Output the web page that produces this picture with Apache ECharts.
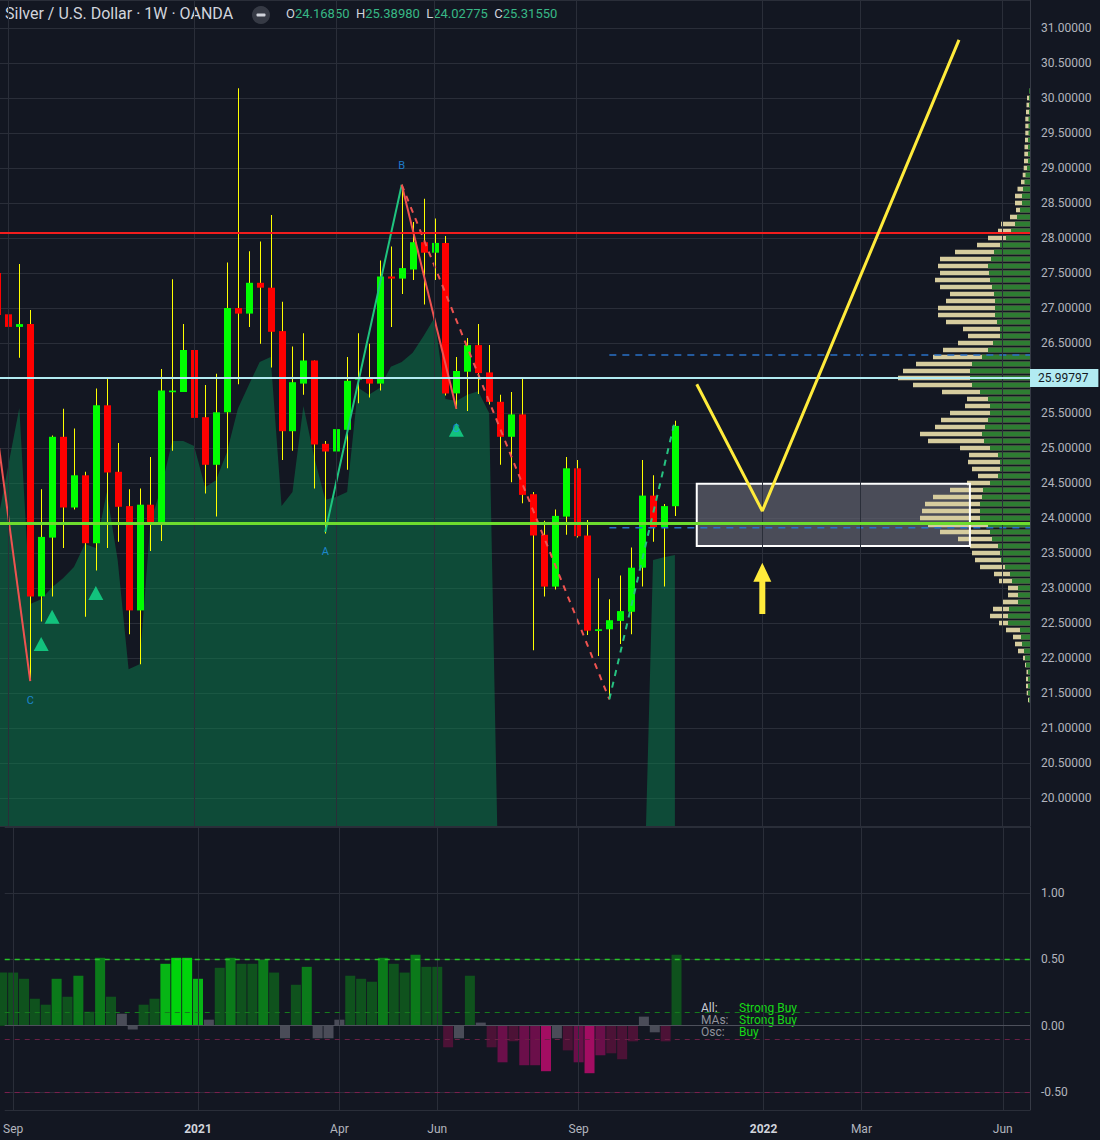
<!DOCTYPE html>
<html><head><meta charset="utf-8">
<script src="https://cdn.jsdelivr.net/npm/echarts@6/dist/echarts.min.js"></script>
<style>html,body{margin:0;padding:0;background:#131722;}#c{width:1100px;height:1140px;}</style>
</head><body><div id="c"></div>
<script>
// ---------- categories / ticks ----------
const startWeek = '2020-08-31';
const weekCount = 95;
const tickLabels = [['2020-09-07','Sep'],['2021-01-04','2021'],['2021-04-05','Apr'],['2021-06-07','Jun'],['2021-09-06','Sep'],['2022-01-03','2022'],['2022-03-07','Mar'],['2022-06-06','Jun']];
const yearLabels = ['2021','2022'];

// ---------- weekly candles (from 2020-08-31) ----------
const priceOpen = [27.50,26.91,26.73,26.77,22.88,23.72,25.16,24.15,24.61,23.64,
 25.61,24.66,24.17,22.68,24.19,23.92,25.80,25.80,26.40,25.44,
 24.76,25.51,27.00,26.92,27.36,27.29,26.67,25.24,25.92,26.25,
 25.06,24.95,25.26,25.98,26.00,25.92,27.45,27.42,27.55,27.94,
 27.79,27.93,25.78,26.09,26.47,26.08,25.66,25.16,25.48,24.34,
 23.76,23.02,24.02,24.71,23.75,22.40,22.41,22.53,22.66,23.29,
 24.32,23.87,24.16850];
const priceHigh = [27.90,27.50,27.63,26.97,24.41,25.18,25.56,25.28,24.66,25.85,
 26.00,25.07,24.41,24.42,24.87,26.13,27.41,26.77,27.93,25.90,
 26.06,27.65,30.14,27.81,27.95,28.33,27.09,26.45,26.64,26.25,
 25.10,25.61,26.30,26.64,26.49,27.68,27.88,28.76,28.23,28.56,
 28.28,28.03,26.30,26.57,26.77,26.47,25.76,25.80,26.00,24.37,
 23.96,24.12,24.87,24.83,23.97,23.14,22.84,23.18,23.58,24.83,
 24.61,24.20,25.38980];
const priceLow = [26.80,25.84,26.29,21.67,22.52,22.88,23.57,24.12,22.59,23.25,
 23.57,23.66,22.34,21.91,23.53,23.67,24.96,25.80,24.47,24.35,
 24.02,24.71,25.91,26.73,26.49,26.15,24.83,24.96,25.76,24.42,
 23.78,24.61,24.69,25.64,25.72,25.82,26.73,27.20,27.40,27.05,
 27.40,25.75,25.56,25.53,25.77,25.62,24.76,24.51,24.21,22.11,
 22.88,22.98,23.76,23.72,22.33,22.03,21.41,22.20,22.34,23.02,
 23.66,23.02,24.02775];
const priceClose = [26.90,26.73,26.77,22.88,23.73,25.16,24.15,24.61,23.64,25.61,
 24.65,24.16,22.68,24.19,23.92,25.82,25.82,26.40,25.43,24.76,
 25.51,27.00,26.92,27.36,27.29,26.66,25.24,25.94,26.25,25.05,
 24.95,25.27,25.96,26.00,25.92,27.45,27.42,27.57,27.94,27.79,
 27.93,25.78,26.10,26.47,26.07,25.66,25.16,25.48,24.33,23.75,
 23.02,24.03,24.71,23.74,22.39,22.41,22.54,22.67,23.29,24.32,
 23.87,24.17,25.31550];

// ---------- cloud indicator (upper edge) ----------
const cloudTop = [23.94,24.76,25.57,22.77,22.84,23.01,23.14,23.30,23.63,23.57,
 24.37,23.40,21.84,21.91,23.94,24.44,25.10,25.10,25.03,24.44,
 24.54,24.94,25.56,25.90,26.23,26.30,24.17,24.37,25.60,24.86,
 24.26,24.30,24.37,25.86,25.76,25.86,26.16,26.23,26.36,26.60,
 26.86,25.70,25.67,25.76,25.81,25.50,17.5,17.5,17.5,17.5,
 17.5,17.5,17.5,17.5,17.5,17.5,17.5,17.5,17.5,17.5,
 23.40,23.44,23.47];

// ---------- technical rating histogram ----------
const ratingValue = [0.40,0.40,0.353,0.203,0.158,0.353,0.218,0.376,0.105,0.511,
 0.218,0.09,-0.028,0.158,0.203,0.466,0.511,0.511,0.353,0.045,
 0.436,0.511,0.466,0.466,0.496,0.40,-0.095,0.308,0.443,-0.095,
 -0.095,0.045,0.376,0.353,0.331,0.511,0.466,0.40,0.534,0.443,
 0.443,-0.163,-0.095,0.376,0.023,-0.163,-0.276,-0.118,-0.298,-0.298,
 -0.343,-0.095,-0.186,-0.276,-0.358,-0.223,-0.208,-0.253,-0.118,0.068,
 -0.05,-0.118,0.534];
const ratingTier = [1,1,1,1,1,2,1,2,1,2,
 1,0,0,1,1,3,4,4,3,0,
 1,2,1,1,2,1,0,1,2,0,
 0,0,1,1,1,2,1,1,2,1,
 1,-1,0,1,0,-1,-2,-1,-2,-2,
 -3,0,-1,-2,-3,-2,-1,-1,-1,0,
 0,-1,1];
const ratingLevels = {upper:0.5, buy:0.1, zero:0, sell:-0.1, lower:-0.5};

// ---------- volume profile (rows of 0.1 from 30.1 down) ----------
const profileTopPrice = 30.1, profileStep = 0.1;
const profileTotal = [1,3,3.5,4,4.7,4.7,4.7,5,5.5,5.7,6,6.3,
 7.3,9,12.5,15,15,14,20,29,32,42,
 53,75,90,92,90,95,90,80,84,92,
 92,84,67,62,72,87,97,114,127,132,
 117,88,63,65,80,89,95,110,102,70,
 61,62,58,52,63,80,97,105,108,110,
 102,90,72,60,58,55,50,36,31,22,
 22,27,37,40,31,24,17,15,12,7,
 5,3.5,4,4,3.3,2];
const profileUp = [1,1,1,1,1.5,1.5,1.5,2,2,2,2,3,
 4.5,5.5,7,8,8,10,13,15,19,24,
 30,36,39,42,41,40,38,36,35,35,
 35,33,30,30,37,42,48,58,60,60,
 58,50,42,40,40,42,45,48,46,40,
 32,30,30,32,40,47,48,50,50,50,
 42,40,38,32,30,29,25,20,18,12,
 12,12,21,22,22,10,9,8,6,5,
 4,2,2,2,2,1];

// ---------- drawings ----------
const levelResist = 28.08, levelPivot = 25.99797, levelSupport = 23.93;
const dashedLevels = [26.33, 23.86];
const dashedFrom = '2021-09-27';
const zigzagPrev = [['2020-08-03',29.84],['2020-09-21',21.67]];
const pivotA = ['2021-03-29',23.80], pivotB = ['2021-05-17',28.76], pivotC = ['2021-06-21',25.56];
const swingLow = ['2021-09-27',21.41], swingHigh = ['2021-11-08',25.39];
const signalUp = [['2020-09-28',22.20],['2020-10-05',22.59],['2020-11-02',22.93],['2021-06-21',25.26]];
const boxZone = {from:'2021-11-22', to:'2022-05-16', low:23.60, high:24.49};
const projection = [['2021-11-22',25.91],['2022-01-03',24.10],['2022-05-09',30.83]];
const arrowUp = {week:'2022-01-03', from:22.63, to:23.36};

// ---------- helpers ----------
const DAY = 86400000;
const t0 = Date.parse(startWeek + 'T00:00:00Z');
const wi = d => Math.round((Date.parse(d + 'T00:00:00Z') - t0) / (7 * DAY));
const labelByIndex = new Map(tickLabels.map(t => [wi(t[0]), t[1]]));
const tickIdx = tickLabels.map(t => wi(t[0]));
const xStart = 0.231, xEnd = weekCount - 0.5;   // visible week range
const GRID = '#2a2e39';
const TXT = '#b2b5be';
const tierColor = {4:'#00d40b',3:'#07b515',2:'#0b7a1a',1:'#0f521d',0:'#4a4c58','-1':'#4c1236','-2':'#6b0f4a','-3':'#a30d62'};
const isHalf = v => Math.abs(v * 2 - Math.round(v * 2)) < 1e-6;

const candleData = priceOpen.map((o, i) => [i, o, priceClose[i], priceLow[i], priceHigh[i]]);
const profileData = profileTotal.map((t, i) => [+(profileTopPrice - i * profileStep).toFixed(2), t, profileUp[i]]);
const vGrid = tickIdx.map(x => ({xAxis: x}));
const noSym = ['none', 'none'];
const last = priceOpen.length - 1;

const chart = echarts.init(document.getElementById('c'), null, {renderer: 'svg'});
chart.setOption({
  backgroundColor: '#131722',
  animation: false,
  textStyle: {fontFamily: 'Roboto'},
  grid: [
    {left: 0, right: 70, top: 0, height: 826},
    {left: 0, right: 70, top: 827, height: 283},
    {left: 830, right: 70, top: 0, height: 826}
  ],
  xAxis: [
    {type: 'value', gridIndex: 0, min: xStart, max: xEnd, show: false},
    {type: 'value', gridIndex: 1, min: xStart, max: xEnd,
      axisLine: {show: true, lineStyle: {color: '#363a45'}}, axisTick: {show: false},
      splitLine: {show: false},
      axisLabel: {color: TXT, fontSize: 12, margin: 13, customValues: tickIdx, showMinLabel: true, showMaxLabel: true, hideOverlap: false,
        formatter: v => { const t = labelByIndex.get(Math.round(v)) || ''; return yearLabels.includes(t) ? '{b|' + t + '}' : t; },
        rich: {b: {fontWeight: 'bold', color: '#d1d4dc', fontSize: 12}}}},
    {type: 'value', gridIndex: 2, min: 0, max: 200, inverse: true, show: false}
  ],
  yAxis: [
    {type: 'value', gridIndex: 0, position: 'right', min: 19.6, max: 31.4, splitNumber: 24, minInterval: 0.5, maxInterval: 0.5,
      axisLine: {show: true, lineStyle: {color: '#363a45'}}, axisTick: {show: false},
      splitLine: {show: true, lineStyle: {color: GRID}},
      axisLabel: {color: TXT, fontSize: 12, margin: 11, formatter: v => (isHalf(v) && Math.abs(v - levelPivot) > 0.15) ? v.toFixed(5) : ''}},
    {type: 'value', gridIndex: 1, position: 'right', min: -0.635, max: 1.496, splitNumber: 4, minInterval: 0.5, maxInterval: 0.5,
      axisLine: {show: true, lineStyle: {color: '#363a45'}}, axisTick: {show: false},
      splitLine: {show: true, lineStyle: {color: GRID}},
      axisLabel: {color: TXT, fontSize: 12, margin: 11, formatter: v => isHalf(v) ? v.toFixed(2) : ''}},
    {type: 'value', gridIndex: 2, min: 19.6, max: 31.4, show: false}
  ],
  graphic: [
    {type: 'text', left: 5, top: 5, style: {text: 'Silver / U.S. Dollar · 1W · OANDA', fill: '#d1d4dc', font: '16px Roboto'}},
    {type: 'circle', shape: {cx: 261, cy: 15, r: 9}, style: {fill: '#363a45'}},
    {type: 'rect', shape: {x: 256.5, y: 13.5, width: 9, height: 3, r: 1}, style: {fill: '#d1d4dc'}},
    {type: 'text', left: 286, top: 7, style: {
      text: '{l|O}{v|' + priceOpen[last].toFixed(5) + '}  {l|H}{v|' + priceHigh[last].toFixed(5) + '}  {l|L}{v|' + priceLow[last].toFixed(5) + '}  {l|C}{v|' + priceClose[last].toFixed(5) + '}',
      font: '13px Roboto', rich: {l: {fill: '#d1d4dc', font: '13px Roboto'}, v: {fill: '#38b786', font: '13px Roboto'}}}},
    {type: 'text', left: 701, top: 1002, style: {text: 'All:', fill: '#c9ccd4', font: '12px Roboto'}},
    {type: 'text', left: 739, top: 1002, style: {text: 'Strong Buy', fill: '#17d917', font: '12px Roboto'}},
    {type: 'text', left: 701, top: 1014, style: {text: 'MAs:', fill: '#8f929b', font: '12px Roboto'}},
    {type: 'text', left: 739, top: 1014, style: {text: 'Strong Buy', fill: '#17d917', font: '12px Roboto'}},
    {type: 'text', left: 701, top: 1026, style: {text: 'Osc:', fill: '#8f929b', font: '12px Roboto'}},
    {type: 'text', left: 739, top: 1026, style: {text: 'Buy', fill: '#17d917', font: '12px Roboto'}}
  ],
  series: [
    // cloud area + vertical grid
    {type: 'line', name: 'cloud', xAxisIndex: 0, yAxisIndex: 0, z: 1, silent: true,
      data: cloudTop.map((v, i) => [i, v]), symbol: 'none', lineStyle: {width: 0},
      areaStyle: {color: 'rgba(10,128,78,0.5)', opacity: 1, origin: 'start'},
      markLine: {silent: true, symbol: noSym, label: {show: false}, lineStyle: {color: GRID, width: 1, type: 'solid'}, data: vGrid}},
    // box fill
    {type: 'custom', xAxisIndex: 0, yAxisIndex: 0, z: 1, silent: true,
      data: [[wi(boxZone.from), boxZone.low, wi(boxZone.to), boxZone.high]],
      renderItem: (p, api) => { const a = api.coord([api.value(0), api.value(3)]), b = api.coord([api.value(2), api.value(1)]);
        return {type: 'rect', shape: {x: a[0], y: a[1], width: b[0]-a[0], height: b[1]-a[1]}, style: {fill: 'rgba(98,100,111,0.7)'}}; }},
    // volume profile
    {type: 'custom', xAxisIndex: 2, yAxisIndex: 2, z: 2, silent: true, data: profileData,
      renderItem: (p, api) => { const pr = api.value(0); const a = api.coord([0, pr]), b = api.coord([api.value(1), pr]), c = api.coord([api.value(2), pr]); const h = 4.6;
        return {type: 'group', children: [
          {type: 'rect', shape: {x: b[0], y: a[1]-h/2, width: a[0]-b[0], height: h}, style: {fill: '#d6cc9e'}},
          {type: 'rect', shape: {x: c[0], y: a[1]-h/2, width: a[0]-c[0], height: h}, style: {fill: '#2e7d32'}}]}; }},
    // candles
    {type: 'custom', name: 'candles', xAxisIndex: 0, yAxisIndex: 0, z: 3, silent: true, data: candleData,
      encode: {x: 0, y: [1, 2, 3, 4]},
      renderItem: (p, api) => { const i = api.value(0), o = api.value(1), c = api.value(2), l = api.value(3), h = api.value(4);
        const pH = api.coord([i, h]), pL = api.coord([i, l]), pO = api.coord([i, o]), pC = api.coord([i, c]);
        const x = Math.round(pH[0]); const top = Math.min(pO[1], pC[1]); const ht = Math.max(Math.abs(pO[1]-pC[1]), 1.6);
        return {type: 'group', children: [
          {type: 'rect', shape: {x: x, y: pH[1], width: 1, height: pL[1]-pH[1]}, style: {fill: '#ffff00'}},
          {type: 'rect', shape: {x: x-3, y: top, width: 7, height: ht}, style: {fill: c >= o ? '#00ff00' : '#ff0000'}}]}; }},
    // zigzag solid
    {type: 'line', xAxisIndex: 0, yAxisIndex: 0, z: 4, silent: true, symbol: 'none',
      data: zigzagPrev.map(d => [wi(d[0]), d[1]]), lineStyle: {color: '#ef5350', width: 2}},
    {type: 'line', xAxisIndex: 0, yAxisIndex: 0, z: 4, silent: true, symbol: 'none',
      data: [[wi(pivotA[0]), pivotA[1]], [wi(pivotB[0]), pivotB[1]]], lineStyle: {color: '#1fc47f', width: 2}},
    {type: 'line', xAxisIndex: 0, yAxisIndex: 0, z: 4, silent: true, symbol: 'none',
      data: [[wi(pivotB[0]), pivotB[1]], [wi(pivotC[0]), pivotC[1]]], lineStyle: {color: '#ef5350', width: 2},
      markLine: {silent: true, symbol: noSym, data: [
        {yAxis: levelResist, lineStyle: {color: '#f21d1d', width: 2, type: 'solid'}, label: {show: false}},
        {yAxis: levelSupport, lineStyle: {color: '#6ddc2e', width: 3, type: 'solid'}, label: {show: false}},
        {yAxis: levelPivot, lineStyle: {color: '#b2ebf2', width: 2, type: 'solid'},
          label: {show: true, position: 'end', distance: 0, formatter: levelPivot.toFixed(5), color: '#131722', fontSize: 12,
            backgroundColor: '#b2ebf2', padding: [3, 10, 3, 8]}}]}},
    // zigzag dashed
    {type: 'line', xAxisIndex: 0, yAxisIndex: 0, z: 4, silent: true, symbol: 'none',
      data: [[wi(pivotB[0]), pivotB[1]], [wi(swingLow[0]), swingLow[1]]], lineStyle: {color: '#ef5350', width: 2, type: [6, 6]}},
    {type: 'line', xAxisIndex: 0, yAxisIndex: 0, z: 4, silent: true, symbol: 'none',
      data: [[wi(swingLow[0]), swingLow[1]], [wi(swingHigh[0]), swingHigh[1]]], lineStyle: {color: '#26c281', width: 2, type: [6, 6]}},
    // dashed blue levels
    ...dashedLevels.map(v => ({type: 'line', xAxisIndex: 0, yAxisIndex: 0, z: 4, silent: true, symbol: 'none',
      data: [[wi(dashedFrom), v], [xEnd, v]], lineStyle: {color: '#2a72c8', width: 1.5, type: [7, 6]}})),
    // box border
    {type: 'custom', xAxisIndex: 0, yAxisIndex: 0, z: 4, silent: true,
      data: [[wi(boxZone.from), boxZone.low, wi(boxZone.to), boxZone.high]],
      renderItem: (p, api) => { const a = api.coord([api.value(0), api.value(3)]), b = api.coord([api.value(2), api.value(1)]);
        return {type: 'rect', shape: {x: a[0], y: a[1], width: b[0]-a[0], height: b[1]-a[1]}, style: {fill: 'none', stroke: '#ffffff', lineWidth: 2}}; }},
    // projection
    {type: 'line', xAxisIndex: 0, yAxisIndex: 0, z: 5, silent: true, symbol: 'none',
      data: projection.map(d => [wi(d[0]), d[1]]), lineStyle: {color: '#ffeb3b', width: 3}},
    // arrow
    {type: 'custom', xAxisIndex: 0, yAxisIndex: 0, z: 5, silent: true,
      data: [[wi(arrowUp.week), arrowUp.from, arrowUp.to]],
      renderItem: (p, api) => { const t = api.coord([api.value(0), api.value(1)]), h = api.coord([api.value(0), api.value(2)]); const x = t[0];
        return {type: 'polygon', shape: {points: [[x-3, t[1]], [x-3, h[1]+19], [x-9, h[1]+19], [x, h[1]], [x+9, h[1]+19], [x+3, h[1]+19], [x+3, t[1]]]}, style: {fill: '#ffeb3b'}}; }},
    // signal triangles
    {type: 'scatter', xAxisIndex: 0, yAxisIndex: 0, z: 5, silent: true, symbol: 'triangle', symbolSize: [15, 14],
      itemStyle: {color: '#14e08e'}, data: signalUp.map(d => [wi(d[0]), d[1]])},
    // ABC labels
    {type: 'scatter', xAxisIndex: 0, yAxisIndex: 0, z: 6, silent: true, symbolSize: 0.1, itemStyle: {color: 'rgba(0,0,0,0)'},
      label: {show: true, color: '#2196f3', fontSize: 11, distance: 14},
      data: [
        {value: [wi(zigzagPrev[1][0]), zigzagPrev[1][1]], label: {position: 'bottom', formatter: 'C'}},
        {value: [wi(pivotA[0]), pivotA[1]], label: {position: 'bottom', formatter: 'A'}},
        {value: [wi(pivotB[0]), pivotB[1]], label: {position: 'top', formatter: 'B'}},
        {value: [wi(pivotC[0]), pivotC[1]], label: {position: 'bottom', formatter: 'C'}}]},
    // rating histogram
    {type: 'bar', xAxisIndex: 1, yAxisIndex: 1, z: 2, silent: true, barWidth: 10,
      data: ratingValue.map((v, i) => ({value: [i, v], itemStyle: {color: tierColor[ratingTier[i]]}})),
      markLine: {silent: true, symbol: noSym, label: {show: false}, data: [
        ...vGrid.map(d => Object.assign({lineStyle: {color: GRID, width: 1, type: 'solid'}}, d)),
        {yAxis: ratingLevels.upper, lineStyle: {color: '#27c427', width: 1.3, type: [5, 5]}},
        {yAxis: ratingLevels.buy, lineStyle: {color: '#157a1c', width: 1.2, type: [5, 5]}},
        {yAxis: ratingLevels.zero, lineStyle: {color: '#4d505b', width: 1, type: 'solid'}},
        {yAxis: ratingLevels.sell, lineStyle: {color: '#6b1f45', width: 1.2, type: [5, 5]}},
        {yAxis: ratingLevels.lower, lineStyle: {color: '#7a1e4d', width: 1.2, type: [5, 5]}}]}}
  ]
});
</script></body></html>
